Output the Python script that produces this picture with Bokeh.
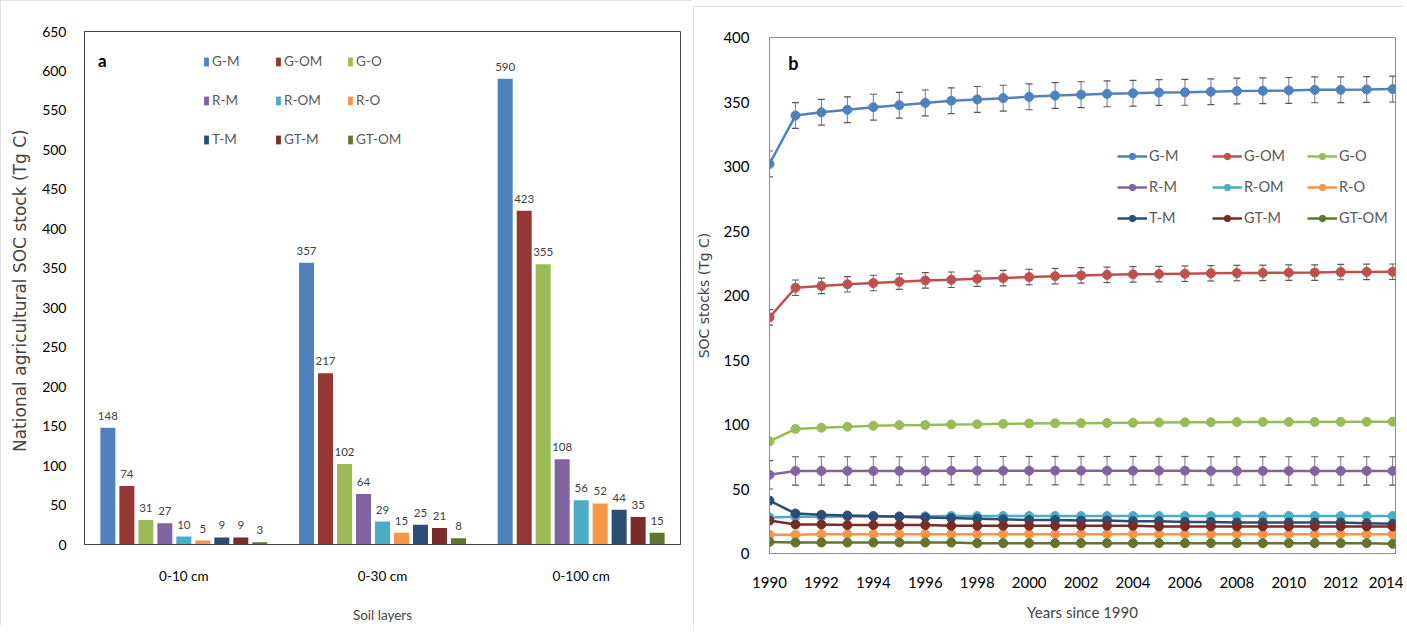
from bokeh.plotting import figure
from bokeh.layouts import row, column
from bokeh.models import (ColumnDataSource, FactorRange, Range1d, Label, LabelSet,
                          Whisker, TeeHead, SingleIntervalTicker, Spacer)
from bokeh.transform import dodge
from bokeh.core.properties import value
from bokeh.embed import file_html
from bokeh.resources import INLINE

# ---------------- data: panel a ----------------
layers = ["0-10 cm", "0-30 cm", "0-100 cm"]
series = ["G-M", "G-OM", "G-O", "R-M", "R-OM", "R-O", "T-M", "GT-M", "GT-OM"]
gm_stock = [148, 357, 590]
gom_stock = [74, 217, 423]
go_stock = [31, 102, 355]
rm_stock = [27, 64, 108]
rom_stock = [10, 29, 56]
ro_stock = [5, 15, 52]
tm_stock = [9, 25, 44]
gtm_stock = [9, 21, 35]
gtom_stock = [3, 8, 15]

# ---------------- data: panel b ----------------
years = [1990, 1991, 1992, 1993, 1994, 1995, 1996, 1997, 1998, 1999, 2000, 2001, 2002,
         2003, 2004, 2005, 2006, 2007, 2008, 2009, 2010, 2011, 2012, 2013, 2014]
gm_soc = [302, 339.5, 342, 344, 346, 347.5, 349.3, 351, 352, 353, 354, 355, 355.7,
          356.3, 356.8, 357.4, 357.5, 358, 358.5, 358.7, 359, 359.4, 359.5, 359.7, 360]
gom_soc = [183, 206, 207.4, 208.7, 209.7, 210.7, 211.7, 212.2, 213, 213.5, 214.3, 215, 215.6,
           216, 216.4, 216.6, 216.9, 217.2, 217.4, 217.5, 217.7, 217.8, 218.2, 218.3, 218.4]
go_soc = [87, 96.5, 97.5, 98.3, 99, 99.5, 99.6, 100, 100.2, 100.5, 100.8, 101, 101,
          101.2, 101.4, 101.6, 101.7, 101.8, 101.9, 102, 102, 102, 102.1, 102.1, 102.2]
rm_soc = [61, 64, 64, 64, 64, 64, 64, 64.2, 64.2, 64.2, 64.2, 64.2, 64.2,
          64.2, 64.2, 64.2, 64.2, 64, 64, 64, 64, 64, 64, 64, 64]
rom_soc = [28, 28.5, 28.5, 28.7, 28.7, 28.8, 28.8, 29, 29, 29, 29, 29, 29,
           29, 29, 29, 29, 29, 29, 29, 29, 29, 29, 29, 29]
ro_soc = [14.5, 14.5, 15, 15, 15, 15, 15, 15, 15, 15, 15, 15, 15,
          15, 15, 15, 15, 15, 15, 15, 15, 15, 15, 15, 15]
tm_soc = [41, 31, 30, 29.5, 29, 28.5, 28, 27.5, 27, 26.5, 26, 26, 25.5,
          25.5, 25, 25, 24.5, 24.5, 24, 24, 24, 24, 24, 23.5, 23]
gtm_soc = [25.5, 22.5, 22.5, 22, 22, 22, 22, 21.5, 21.5, 21.5, 21.5, 21.5, 21.5,
           21.5, 21.5, 21, 21, 21, 21, 21, 21, 21, 21, 21, 21]
gtom_soc = [9, 8.5, 8.5, 8.5, 8.5, 8.5, 8.5, 8.5, 8, 8, 8, 8, 8,
            8, 8, 8, 8, 8, 8, 8, 8, 8, 8, 8, 7.5]
gm_err = 10
gom_err = 6
rm_err = 11

bar_colors = ["#4F81BD", "#953735", "#9BBB59", "#8064A2", "#4BACC6",
              "#F79646", "#2C4D75", "#7B2C2A", "#5F7530"]
line_colors = ["#4F81BD", "#C0504D", "#9BBB59", "#8064A2", "#4BACC6",
               "#F79646", "#2C4D75", "#772C2A", "#5F7530"]

NARROW = "Lato"
WIDE = "DejaVu Sans"

# ---------------- panel a ----------------
p1 = figure(x_range=FactorRange(*layers), y_range=Range1d(0, 650),
            width=692, height=625, output_backend="svg", toolbar_location=None,
            min_border_left=84, min_border_right=12, min_border_top=31, min_border_bottom=78)
p1.outline_line_color = "#404040"
p1.xgrid.visible = False
p1.ygrid.visible = False

stocks = [gm_stock, gom_stock, go_stock, rm_stock, rom_stock, ro_stock,
          tm_stock, gtm_stock, gtom_stock]
step = 0.0956
for i, (name, vals, col) in enumerate(zip(series, stocks, bar_colors)):
    src = ColumnDataSource(dict(layer=layers, val=vals, lab=[str(v) for v in vals]))
    off = (i - 4) * step
    p1.vbar(x=dodge("layer", off, range=p1.x_range), top="val", width=0.0755,
            source=src, fill_color=col, line_color=None, legend_label=name)
    p1.add_layout(LabelSet(x=dodge("layer", off, range=p1.x_range), y="val", text="lab",
                           source=src, y_offset=8, text_align="center", text_baseline="bottom",
                           text_font=value(NARROW), text_font_size="11.5px",
                           text_color="#404040"))

p1.yaxis.ticker = SingleIntervalTicker(interval=50)
for ax in (p1.xaxis[0], p1.yaxis[0]):
    ax.axis_line_color = "#404040"
    ax.major_tick_line_color = None
    ax.minor_tick_line_color = None
    ax.major_label_text_font = NARROW
    ax.major_label_text_color = "#000000"
p1.yaxis.major_label_text_font_size = "14px"
p1.yaxis.major_label_standoff = 12
p1.xaxis.major_label_text_font_size = "13.5px"
p1.xaxis.major_label_standoff = 17
p1.xaxis.axis_label = "Soil layers"
p1.xaxis.axis_label_text_font = NARROW
p1.xaxis.axis_label_text_font_style = "normal"
p1.xaxis.axis_label_text_font_size = "13.5px"
p1.xaxis.axis_label_standoff = 20
p1.yaxis.axis_label = "National agricultural SOC stock  (Tg C)"
p1.yaxis.axis_label_text_font = WIDE
p1.yaxis.axis_label_text_font_style = "normal"
p1.yaxis.axis_label_text_font_size = "17px"
p1.yaxis.axis_label_standoff = 9

lg1 = p1.legend[0]
lg1.orientation = "horizontal"
lg1.ncols = 3
lg1.location = (119, 397)
lg1.border_line_color = None
lg1.background_fill_alpha = 0
lg1.padding = 0
lg1.margin = 0
lg1.spacing = 23
lg1.glyph_width = 6
lg1.glyph_height = 11
lg1.label_height = 16
lg1.label_width = 40
lg1.label_standoff = 3
lg1.label_text_font = NARROW
lg1.label_text_font_size = "13.5px"
lg1.label_text_color = "#595959"

p1.add_layout(Label(x=0.09, y=613, text="a", text_font=NARROW, text_font_style="bold",
                    text_font_size="17px", text_align="center", text_baseline="middle",
                    text_color="#000000"))
p1.styles = {"outline": "1px solid #d9d9d9", "outline-offset": "-1px"}

# ---------------- panel b ----------------
p2 = figure(x_range=Range1d(1990, 2014.11), y_range=Range1d(0, 400),
            width=710, height=625, output_backend="svg", toolbar_location=None,
            min_border_left=76, min_border_right=8, min_border_top=31, min_border_bottom=78)
p2.outline_line_color = "#8c8c8c"
p2.xgrid.visible = False
p2.ygrid.visible = False

socs = [gm_soc, gom_soc, go_soc, rm_soc, rom_soc, ro_soc, tm_soc, gtm_soc, gtom_soc]
errs = {"G-M": gm_err, "G-OM": gom_err, "R-M": rm_err}
for name, vals in zip(series, socs):
    if name in errs:
        e = errs[name]
        esrc = ColumnDataSource(dict(x=years, upper=[v + e for v in vals],
                                     lower=[v - e for v in vals]))
        p2.add_layout(Whisker(source=esrc, base="x", upper="upper", lower="lower",
                              line_color="#8c8c8c", line_width=1.2,
                              upper_head=TeeHead(size=7, line_color="#595959", line_width=1.2),
                              lower_head=TeeHead(size=7, line_color="#595959", line_width=1.2)))
for name, vals, col in zip(series, socs, line_colors):
    src = ColumnDataSource(dict(year=years, soc=vals))
    p2.line("year", "soc", source=src, line_color=col, line_width=2.5, legend_label=name)
    p2.scatter("year", "soc", source=src, size=9, fill_color=col, line_color=col,
               legend_label=name)

p2.xaxis.ticker = SingleIntervalTicker(interval=2)
p2.yaxis.ticker = SingleIntervalTicker(interval=50)
for ax in (p2.xaxis[0], p2.yaxis[0]):
    ax.axis_line_color = "#8c8c8c"
    ax.major_tick_line_color = None
    ax.minor_tick_line_color = None
    ax.major_label_text_font = NARROW
    ax.major_label_text_font_size = "15px"
    ax.major_label_text_color = "#000000"
p2.xaxis.major_label_standoff = 17
p2.yaxis.major_label_standoff = 14
p2.xaxis.axis_label = "Years since 1990"
p2.xaxis.axis_label_text_font = NARROW
p2.xaxis.axis_label_text_font_style = "normal"
p2.xaxis.axis_label_text_font_size = "15px"
p2.xaxis.axis_label_standoff = 12
p2.yaxis.axis_label = "SOC stocks (Tg C)"
p2.yaxis.axis_label_text_font = WIDE
p2.yaxis.axis_label_text_font_style = "normal"
p2.yaxis.axis_label_text_font_size = "14px"
p2.yaxis.axis_label_standoff = 8

lg2 = p2.legend[0]
lg2.orientation = "horizontal"
lg2.ncols = 3
lg2.location = (348, 326)
lg2.border_line_color = None
lg2.background_fill_alpha = 0
lg2.padding = 0
lg2.margin = 0
lg2.spacing = 12
lg2.glyph_width = 30
lg2.glyph_height = 16
lg2.label_height = 19
lg2.label_width = 51
lg2.label_standoff = 2
lg2.label_text_font = NARROW
lg2.label_text_font_size = "14.5px"
lg2.label_text_color = "#595959"

p2.add_layout(Label(x=1990.92, y=380, text="b", text_font=NARROW, text_font_style="bold",
                    text_font_size="18px", text_align="center", text_baseline="middle",
                    text_color="#000000"))
p2.styles = {"outline": "1px solid #d9d9d9", "outline-offset": "-1px"}

layout = row(p1, Spacer(width=1), column(Spacer(height=6), p2))
open("out.html", "w").write(file_html(layout, INLINE))
